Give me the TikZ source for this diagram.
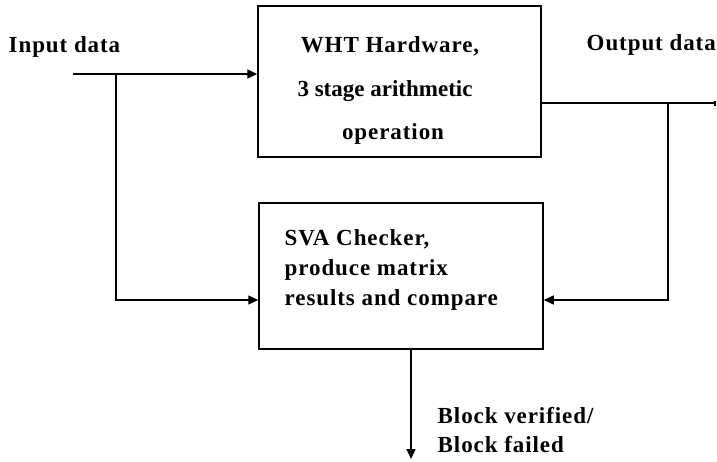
\documentclass[tikz,border=0pt]{standalone}
\usepackage{fontspec}
\setmainfont[LetterSpace=4]{Liberation Serif}
\usetikzlibrary{arrows.meta}
\begin{document}
\begin{tikzpicture}[x=1pt,y=-1pt,
  line width=1.4pt,
  >={Triangle[length=10pt,width=9pt]},
  box/.style={draw, line width=1.5pt, inner sep=0pt},
  txt/.style={font=\fontsize{23}{28}\selectfont\bfseries, inner sep=0pt, anchor=base west},
  ctxt/.style={font=\fontsize{23}{28}\selectfont\bfseries, inner sep=0pt, anchor=base},
  tight/.style={font=\fontsize{23}{28}\selectfont\bfseries\addfontfeature{LetterSpace=0}}]
\useasboundingbox (0,0) rectangle (717,461);
% boxes
\node[box, minimum width=283pt, minimum height=151pt] (wht) at (399.5,81.5) {};
\node[box, minimum width=284pt, minimum height=146pt] (chk) at (401,276) {};
% box texts
\node[ctxt] (w1) at (390,52) {WHT Hardware,};
\node[ctxt, tight] (w2) at (385,96) {3 stage arithmetic};
\node[ctxt] (w3) at (393,139) {operation};
\node[txt] (c1) at (284,245) {SVA Checker,};
\node[txt] (c2) at (284,275) {produce matrix};
\node[txt] (c3) at (284,305) {results and compare};
% labels
\node[txt] (inl) at (8,52) {Input data};
\node[txt] (outl) at (586,50) {Output data};
\node[txt] (r1) at (437,423) {Block verified/};
\node[txt] (r2) at (437,452) {Block failed};
% coordinates
\coordinate (in) at (73,74);
\coordinate (j1) at (116,74);
\coordinate (k1) at (116,300);
\coordinate (out) at (715,103);
\coordinate (j2) at (668,103);
\coordinate (k2) at (668,300);
\coordinate (res) at (411,459);
% connectors
\draw[->] (in) -- (in -| wht.west);
\draw[->] (j1) -- (k1) -- (k1 -| chk.west);
\draw (wht.east |- out) -- (out);
\draw[line width=2.5pt] ([yshift=-2.5pt]out) -- ([yshift=2.5pt]out);
\draw[->] (j2) -- (k2) -- (k2 -| chk.east);
\draw[->] (res |- chk.south) -- (res);
\end{tikzpicture}
\end{document}
